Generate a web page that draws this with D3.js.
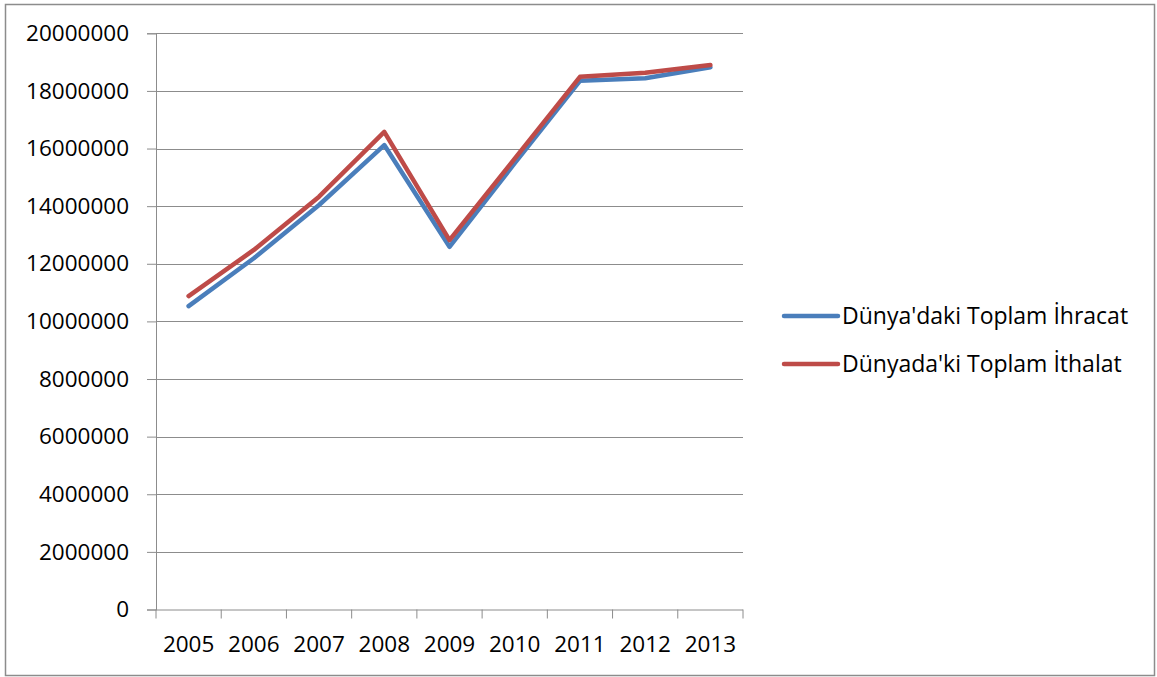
<!DOCTYPE html>
<html><head><meta charset="utf-8">
<script src="https://cdn.jsdelivr.net/npm/d3@7"></script>
<style>
html,body{margin:0;padding:0;background:#fff;}
svg{display:block;}
text{font-family:"Open Sans",Lato,sans-serif;fill:#000;}
</style></head>
<body>
<svg id="chart" width="1157" height="677"></svg>
<script>
const years = ["2005","2006","2007","2008","2009","2010","2011","2012","2013"];
const exportsWorld = [10530000,12190000,14040000,16120000,12590000,15490000,18350000,18440000,18820000];
const importsWorld = [10880000,12480000,14330000,16580000,12820000,15650000,18490000,18630000,18900000];
const seriesNames = ["Dünya'daki Toplam İhracat","Dünyada'ki Toplam İthalat"];
const seriesColors = ["#4a7ebb","#be4b48"];
const yTicks = [0,2000000,4000000,6000000,8000000,10000000,12000000,14000000,16000000,18000000,20000000];

(function(){
const svg = d3.select("#chart");
svg.append("rect").attr("x",5.5).attr("y",4.5).attr("width",1149).attr("height",671)
  .attr("fill","#fff").attr("stroke","#8c8c8c").attr("stroke-width",1.5);

const pLeft=156, pRight=743, pTop=33.3, pBottom=609.5;
const x = d3.scaleBand().domain(years).range([pLeft,pRight]).padding(0);
const y = d3.scaleLinear().domain([0,20000000]).range([pBottom,pTop]);

svg.append("g").selectAll("line").data(yTicks.filter(d=>d>0)).join("line")
  .attr("x1",pLeft).attr("x2",pRight).attr("y1",d=>Math.round(y(d))+0.5).attr("y2",d=>Math.round(y(d))+0.5)
  .attr("stroke","#8c8c8c").attr("stroke-width",1);

const yAxis = svg.append("g").attr("transform",`translate(${pLeft},0)`)
  .call(d3.axisLeft(y).tickValues(yTicks).tickSize(9).tickPadding(18).tickFormat(d=>String(d)));
yAxis.select(".domain").attr("stroke","#8c8c8c");
yAxis.selectAll(".tick line").attr("stroke","#8c8c8c");
yAxis.selectAll("text").attr("font-size",22.5).attr("font-family","'Open Sans',sans-serif");

const xAxis = svg.append("g").attr("transform",`translate(0,${pBottom})`)
  .call(d3.axisBottom(x).tickSize(0).tickPadding(27));
xAxis.select(".domain").attr("stroke","#8c8c8c").attr("d",`M${pLeft},0.5H${pRight}`);
xAxis.selectAll("text").attr("font-size",22.5).attr("font-family","'Open Sans',sans-serif");
const bounds = years.map(d=>x(d)).concat([pRight]);
xAxis.append("g").selectAll("line").data(bounds).join("line")
  .attr("x1",d=>d).attr("x2",d=>d).attr("y1",0).attr("y2",9).attr("stroke","#8c8c8c");

const line = d3.line().x((d,i)=>x(years[i])+x.bandwidth()/2).y(d=>y(d));
[exportsWorld, importsWorld].forEach((s,i)=>{
  svg.append("path").datum(s).attr("d",line).attr("fill","none")
    .attr("stroke",seriesColors[i]).attr("stroke-width",4.5)
    .attr("stroke-linejoin","round").attr("stroke-linecap","round");
});

const lg = svg.append("g");
seriesNames.forEach((n,i)=>{
  const ly = 316 + i*48;
  lg.append("line").attr("x1",784).attr("x2",838).attr("y1",ly).attr("y2",ly)
    .attr("stroke",seriesColors[i]).attr("stroke-width",4.5).attr("stroke-linecap","round");
  lg.append("text").attr("x",842).attr("y",ly).attr("dy","0.36em")
    .attr("font-size",23).text(n);
});
})();
</script>
</body></html>
